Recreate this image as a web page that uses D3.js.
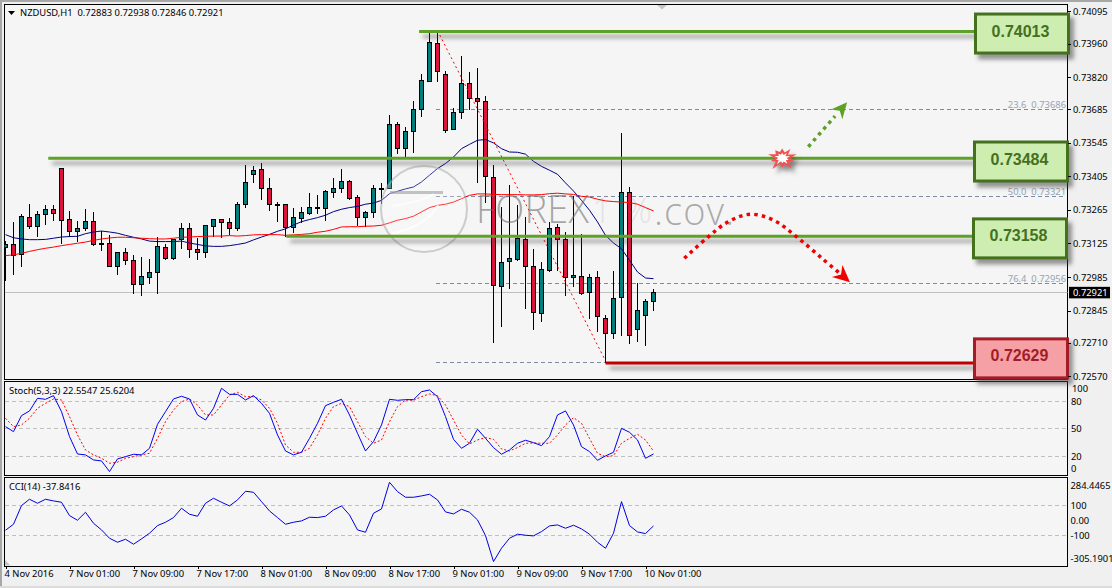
<!DOCTYPE html>
<html>
<head>
<meta charset="utf-8">
<title>NZDUSD H1</title>
<script src="https://cdn.jsdelivr.net/npm/d3@7/dist/d3.min.js"></script>
<style>
  html, body { margin: 0; padding: 0; background: #f0f0f0; overflow: hidden; }
  svg { display: block; }
  text { font-family: Tahoma, "Noto Sans", "Liberation Sans", sans-serif; font-size: 9.4px; fill: #000; }
  .axis .domain, .axis line { stroke: #000; shape-rendering: crispEdges; }
  .axis text { font-family: Tahoma, "Noto Sans", "Liberation Sans", sans-serif; font-size: 9.4px; fill: #000; }
</style>
</head>
<body>
<svg id="chart" width="1112" height="588"></svg>
<script>
// Hourly NZDUSD candles, in bar order
const opens = [.73110,.73121,.73080,.73234,.73198,.73244,.73268,.73439,.73226,.73177,.73186,.73218,.73124,.73126,.73031,.73088,.73055,.72952,.72985,.73002,.73109,.73064,.73140,.73188,.73101,.73089,.73198,.73226,.73213,.73188,.73286,.73415,.73435,.73356,.73289,.73289,.73193,.73230,.73252,.73271,.73272,.73340,.73353,.73385,.73318,.73232,.73254,.73354,.73354,.73621,.73521,.73592,.73684,.73801,.73960,.73830,.73601,.73672,.73793,.73730,.73718,.73400,.72945,.73048,.73060,.73142,.73028,.72832,.73014,.73191,.73142,.72985,.72986,.72920,.72982,.72811,.72748,.72899,.73337,.72765,.72823,.72883];
const highs = [.73138,.73215,.73250,.73294,.73264,.73289,.73289,.73439,.73264,.73219,.73271,.73259,.73180,.73163,.73088,.73110,.73080,.73071,.73062,.73155,.73127,.73145,.73213,.73213,.73152,.73201,.73230,.73226,.73234,.73301,.73456,.73452,.73464,.73401,.73301,.73289,.73276,.73280,.73339,.73330,.73350,.73399,.73439,.73393,.73330,.73264,.73372,.73378,.73663,.73635,.73612,.73723,.73835,.74009,.74009,.73849,.73693,.73911,.73844,.73861,.73744,.73456,.73280,.73372,.73289,.73239,.73105,.73051,.73215,.73208,.73176,.73326,.73168,.73000,.73013,.72829,.73013,.73589,.73364,.72963,.72895,.72938];
const lows = [.72971,.72996,.73030,.73186,.73155,.73205,.73222,.73127,.73155,.73135,.73180,.73117,.73096,.73031,.72996,.73038,.72918,.72906,.72960,.72918,.73057,.73057,.73105,.73067,.73059,.73067,.73155,.73152,.73163,.73180,.73277,.73378,.73310,.73264,.73218,.73155,.73169,.73212,.73247,.73250,.73222,.73319,.73340,.73310,.73199,.73197,.73232,.73291,.73354,.73500,.73486,.73503,.73654,.73801,.73803,.73587,.73601,.73645,.73684,.73381,.73298,.72712,.72779,.72939,.73052,.72854,.72766,.72800,.73010,.73013,.72908,.72946,.72913,.72811,.72758,.72626,.72729,.72741,.72709,.72716,.72697,.72846];
const closes = [.73121,.73076,.73239,.73198,.73247,.73268,.73252,.73223,.73177,.73188,.73218,.73119,.73119,.73031,.73088,.73052,.72953,.72988,.73005,.73113,.73064,.73142,.73188,.73099,.73089,.73201,.73226,.73211,.73186,.73289,.73381,.73431,.73353,.73286,.73284,.73193,.73234,.73255,.73276,.73276,.73343,.73356,.73385,.73311,.73233,.73255,.73354,.73352,.73621,.73521,.73592,.73686,.73807,.73966,.73843,.73596,.73673,.73793,.73729,.73718,.73404,.72949,.73045,.73062,.73144,.73028,.72836,.73016,.73187,.73141,.72985,.72991,.72918,.72982,.72819,.72748,.72895,.73337,.72740,.72844,.72882,.72921];

// Moving averages over the same bars
const maFast = [.73162,.73149,.73144,.73141,.73141,.73142,.73147,.73152,.73154,.73155,.73166,.73173,.73177,.73173,.73168,.73159,.73151,.73144,.73135,.73133,.73133,.73133,.73135,.73127,.73121,.73115,.73113,.73113,.73116,.73121,.73127,.73140,.73152,.73163,.73176,.73186,.73202,.73216,.73225,.73233,.73243,.73258,.73268,.73275,.73280,.73289,.73294,.73305,.73333,.73343,.73353,.73361,.73382,.73410,.73438,.73459,.73486,.73521,.73539,.73556,.73559,.73545,.73521,.73507,.73506,.73498,.73468,.73447,.73431,.73414,.73378,.73344,.73305,.73264,.73215,.73159,.73127,.73103,.73055,.73006,.72981,.72978];
const maSlow = [.73074,.73078,.73084,.73092,.73099,.73105,.73110,.73116,.73121,.73126,.73131,.73138,.73144,.73148,.73151,.73151,.73149,.73147,.73145,.73144,.73144,.73147,.73151,.73152,.73154,.73155,.73156,.73156,.73158,.73156,.73158,.73161,.73162,.73162,.73162,.73159,.73161,.73163,.73166,.73172,.73176,.73184,.73194,.73195,.73195,.73197,.73198,.73201,.73211,.73222,.73229,.73239,.73257,.73275,.73284,.73289,.73298,.73312,.73326,.73332,.73332,.73330,.73329,.73329,.73329,.73328,.73328,.73329,.73333,.73335,.73332,.73330,.73322,.73319,.73310,.73303,.73300,.73298,.73296,.73289,.73275,.73261];

// Stochastic oscillator
const stochMain = [52.4,46.9,64.4,69.5,83.3,82.2,86.2,68.7,41.5,22.5,21.5,16.0,14.9,3.3,17.1,19.6,22.2,21.5,28.7,54.9,68.7,82.6,85.5,82.6,65.1,59.6,72.4,94.2,87.6,87.6,81.5,86.2,77.8,66.9,43.3,25.8,21.5,24.4,39.6,56,75.3,78.9,82.2,65.1,45.1,25.8,36,54.2,82.2,81.1,81.8,81.8,90.5,92.4,85.1,63.3,38.5,28.7,34.2,49.5,39.6,29.5,22.2,26.9,34.2,37.5,34.9,31.6,41.5,65.1,69.5,54.2,30.5,25.1,15.6,20.4,24.4,50.5,46.2,37.8,17.8,22.5547];
const stochSignal = [61.5,52.4,54.2,61.5,72.4,77.8,82.6,81.5,63.3,43.3,26.9,21.5,17.8,12.4,13.5,17.8,19.6,21.5,23.3,39.6,57.8,70.5,79.6,82.6,76,65.1,65.1,76,86.9,89.8,85.1,85.1,81.5,72.4,56,32.4,24.4,24.4,28.7,43.3,61.5,74.2,77.8,74.2,57.8,41.5,34.2,37.8,57.8,74.2,81.5,81.1,85.1,88,86.2,76,59.6,43.3,33.5,37.8,40.4,38.5,28,25.8,29.5,34.2,34.5,34.2,34.2,43.3,54.2,62.2,56,39.6,23.3,19.6,20.7,34.2,39.6,44,37.8,25.6204];

// Commodity channel index
const cci = [-66.7,-26.7,97.8,140,113.3,140,128.9,120,31.1,0,53.3,-20,-64.4,-120,-146.7,-126.7,-160,-124.4,-86.7,-35.6,-13.3,17.8,80,40,26.7,113.3,146.7,120,95.6,135.6,193.3,186.7,124.4,62.2,17.8,-26.7,-13.3,-4.4,20,17.8,26.7,68.9,95.6,35.6,-64.4,-80,46.7,75.6,253.3,191.1,153.3,153.3,162.2,173.3,135.6,55.6,42.2,73.3,53.3,2.2,-102.2,-275.6,-186.7,-120,-93.3,-100,-104.4,-75.6,-37.8,-31.1,-53.3,-33.3,-57.8,-93.3,-146.7,-186.7,-86.7,124.4,-35.6,-77.8,-88.9,-37.8416];

// Axis labelling
const priceTicks = [.74095,.73960,.73820,.73685,.73545,.73405,.73265,.73125,.72985,.72845,.72710,.72570];
const stochTicks = [100,80,50,20,0];
const cciTicks = [284.4465,100,0,-100,-305.1901];
const cciTickLabels = ["284.4465","100","0.00","-100","-305.1901"];
const timeLabels = ["4 Nov 2016","7 Nov 01:00","7 Nov 09:00","7 Nov 17:00","8 Nov 01:00","8 Nov 09:00","8 Nov 17:00","9 Nov 01:00","9 Nov 09:00","9 Nov 17:00","10 Nov 01:00"];

// Key levels with their call-out boxes
const levelValues = [.74013,.73484,.73158,.72629];
const levelStartBars = [51.7,5.35,35.1,75];

// Fibonacci retracement
const fibRatios = ["23.6","50.0","76.4"];
const fibValues = [.73686,.73321,.72956];
const fibAnchorHigh = [54,.74014];
const fibAnchorLow = [75,.72635];
const fibStartBar = 54;

// Scenario paths, as bar index and price
const bullBars = [100.35,103.7], bullPrices = [.73529,.73657], bullTip = [105.2,.73715];
const bearBars = [84.85,87.85,90.35,93.06,95.98,99.1,102.2,104.5];
const bearPrices = [.73063,.73153,.73216,.73247,.73223,.73147,.73059,.72994];
const bearTip = [105.56,.72963];
const breakoutPoint = [97.1,.73490];

const W = 1112, H = 588;
const left = 4.5, right = 1067.5;
const svg = d3.select("#chart");
const defs = svg.append("defs");

const shadow = defs.append("filter").attr("id", "shadow")
  .attr("filterUnits", "userSpaceOnUse")
  .attr("x", 0).attr("y", 0).attr("width", W).attr("height", H);
shadow.append("feDropShadow").attr("dx", 4).attr("dy", 5).attr("stdDeviation", 2)
  .attr("flood-color", "#444").attr("flood-opacity", 0.55);

const clipPanel = (id, y0, y1) => defs.append("clipPath").attr("id", id)
  .append("rect").attr("x", left).attr("y", y0).attr("width", right - left).attr("height", y1 - y0);
clipPanel("clipMain", 4.5, 379);
clipPanel("clipStoch", 381.5, 475);
clipPanel("clipCci", 477.5, 566);

// Scales
const x = d3.scaleLinear().domain([0, 81]).range([5.5, 653.5]);
const y = d3.scaleLinear().domain([.74095, .72570]).range([11.2, 376.4]);
const yStoch = d3.scaleLinear().domain([100, 0]).range([383, 474.6]);
const yCci = d3.scaleLinear().domain([284.4465, -305.1901]).range([477.6, 566]);
const snap = v => Math.round(v - 0.5) + 0.5;

// Window background and panel faces
svg.append("rect").attr("width", W).attr("height", H).attr("fill", "#f0f0f0");
svg.append("rect").attr("x", 0).attr("y", 0).attr("width", W).attr("height", 2).attr("fill", "#a8a8a8");
svg.append("rect").attr("x", 0).attr("y", 0).attr("width", 2).attr("height", 586).attr("fill", "#a8a8a8");
svg.append("rect").attr("x", 0).attr("y", 586).attr("width", W).attr("height", 2).attr("fill", "#dcdcdc");

const panels = [[4.5, 379.5], [381.5, 475.5], [477.5, 566]];
svg.selectAll("rect.face").data(panels).join("rect").attr("class", "face")
  .attr("x", left).attr("y", d => d[0]).attr("width", right - left).attr("height", d => d[1] - d[0])
  .attr("fill", "#f5f5f5").attr("stroke", "#000").attr("shape-rendering", "crispEdges");

// Price panel
const main = svg.append("g").attr("clip-path", "url(#clipMain)");

main.append("line").attr("x1", left).attr("x2", right)
  .attr("y1", snap(y(closes[closes.length - 1]))).attr("y2", snap(y(closes[closes.length - 1])))
  .attr("stroke", "#c0c0c0").attr("shape-rendering", "crispEdges");

const fibStartX = x(fibStartBar) - 1.5;
main.selectAll("line.fib").data(fibValues.concat([levelValues[3]])).join("line").attr("class", "fib")
  .attr("x1", fibStartX).attr("x2", (d, i) => i === 3 ? x(fibAnchorLow[0]) : right - 2)
  .attr("y1", d => snap(y(d))).attr("y2", d => snap(y(d)))
  .attr("stroke", "#7d8ca3").attr("stroke-dasharray", "4 3").attr("shape-rendering", "crispEdges");

main.selectAll("text.fibLabel").data(fibValues).join("text").attr("class", "fibLabel")
  .attr("x", right - 1.5).attr("y", d => snap(y(d)) - 2).attr("text-anchor", "end")
  .attr("xml:space", "preserve")
  .style("fill", "#98a4b4")
  .text((d, i) => `${fibRatios[i]}  ${d.toFixed(5)}`);

const bars = d3.range(closes.length).map(i => ({ i, o: opens[i], h: highs[i], l: lows[i], c: closes[i] }));
const candle = main.selectAll("g.bar").data(bars).join("g").attr("class", "bar");
candle.append("line")
  .attr("x1", d => x(d.i)).attr("x2", d => x(d.i))
  .attr("y1", d => snap(y(d.h))).attr("y2", d => snap(y(d.l)))
  .attr("stroke", "#000").attr("shape-rendering", "crispEdges");
candle.append("rect")
  .attr("x", d => x(d.i) - 2).attr("width", 4)
  .attr("y", d => snap(y(Math.max(d.o, d.c))))
  .attr("height", d => Math.max(1, snap(y(Math.min(d.o, d.c))) - snap(y(Math.max(d.o, d.c)))))
  .attr("fill", d => d.c >= d.o ? "#007d7d" : "#dc143c")
  .attr("stroke", "#000").attr("shape-rendering", "crispEdges");

const priceLine = d3.line().x((d, i) => x(i)).y(d => y(d));
main.append("path").attr("d", priceLine(maFast)).attr("fill", "none").attr("stroke", "#000080");
main.append("path").attr("d", priceLine(maSlow)).attr("fill", "none").attr("stroke", "#ff0000");

main.append("line")
  .attr("x1", x(fibAnchorHigh[0])).attr("y1", y(fibAnchorHigh[1]))
  .attr("x2", x(fibAnchorLow[0])).attr("y2", y(fibAnchorLow[1]))
  .attr("stroke", "#ff0000").attr("stroke-dasharray", "2 3");

// Semi-transparent site mark over the candles
const markFont = "'Open Sans', 'Liberation Sans', sans-serif";
const mark = svg.append("g").attr("pointer-events", "none");
mark.append("circle").attr("cx", 424).attr("cy", 209).attr("r", 43)
  .attr("fill", "rgba(255,255,255,0.22)").attr("stroke", "rgba(170,170,170,0.55)").attr("stroke-width", 2);
mark.append("rect").attr("x", 390).attr("y", 191).attr("width", 53).attr("height", 3).attr("fill", "rgba(170,170,170,0.7)");
mark.append("path").attr("d", "M391 206 C405 204 425 200 434 194 M392 233 C405 232 430 222 438 205")
  .attr("fill", "none").attr("stroke", "rgba(255,255,255,0.7)").attr("stroke-width", 2);
mark.append("text").attr("x", 476).attr("y", 223)
  .style("font-family", markFont).style("font-size", "38px").style("font-weight", "300")
  .style("fill", "rgba(110,110,110,0.6)").attr("textLength", 113).text("FOREX");
mark.append("text").attr("x", 592).attr("y", 223)
  .style("font-family", markFont).style("font-size", "34px").style("font-weight", "300")
  .style("fill", "rgba(130,130,130,0.18)").attr("textLength", 60).text("1%");
mark.append("text").attr("x", 654).attr("y", 225)
  .style("font-family", markFont).style("font-size", "38px").style("font-weight", "300")
  .style("fill", "rgba(120,120,120,0.6)").attr("textLength", 80).text(".cov.");

// Key levels
const levelColor = ["#5ea025", "#5ea025", "#5ea025", "#c00000"];
const levelGroup = svg.append("g").attr("filter", "url(#shadow)");
levelGroup.selectAll("line").data(levelValues).join("line")
  .attr("x1", (d, i) => x(levelStartBars[i])).attr("x2", 976)
  .attr("y1", d => y(d) + 0.7).attr("y2", d => y(d) + 0.7)
  .attr("stroke", (d, i) => levelColor[i]).attr("stroke-width", 3);

// Call-out boxes: left edge and vertical offset from the level
const boxLeft = [975.5, 974.5, 973.5, 974.5];
const boxShift = [2.7, 4, 2.8, -3.9];
const boxH = 39, boxW = 93;
const boxGroup = svg.append("g");
const box = boxGroup.selectAll("g").data(levelValues).join("g");
box.append("rect")
  .attr("x", (d, i) => boxLeft[i])
  .attr("y", (d, i) => y(d) + boxShift[i] - boxH / 2)
  .attr("width", boxW).attr("height", boxH)
  .attr("fill", (d, i) => i === 3 ? "#f4a0a5" : "#cdeeb0")
  .attr("stroke", (d, i) => i === 3 ? "#a31c28" : "#44701f").attr("stroke-width", 3)
  .attr("filter", "url(#shadow)");
box.append("text")
  .attr("x", (d, i) => boxLeft[i] + 45)
  .attr("y", (d, i) => y(d) + boxShift[i] - 2.5)
  .attr("text-anchor", "middle").attr("dominant-baseline", "central")
  .style("font-family", "'Liberation Sans', Arial, sans-serif").style("font-size", "16px").style("font-weight", "bold")
  .style("fill", (d, i) => i === 3 ? "#a31c28" : "#44701f")
  .text(d => d.toFixed(5));

// Scenario arrows
const pathLine = d3.line().x(d => x(d[0])).y(d => y(d[1]));
function arrowHead(g, from, tip, color, len, half) {
  const fx = x(from[0]), fy = y(from[1]), tx = x(tip[0]), ty = y(tip[1]);
  const a = Math.atan2(ty - fy, tx - fx);
  const pt = (l, s) => [tx - l * Math.cos(a) - s * Math.sin(a), ty - l * Math.sin(a) + s * Math.cos(a)];
  g.append("path").attr("d", "M" + [[tx, ty], pt(len, half), pt(len * 0.7, 0), pt(len, -half)].join("L") + "Z").attr("fill", color);
}
const bull = svg.append("g");
bull.append("path").attr("d", pathLine(d3.zip(bullBars, bullPrices))).attr("fill", "none")
  .attr("stroke", "#5ea025").attr("stroke-width", 3.5).attr("stroke-dasharray", "3.5 4.2");
arrowHead(bull, [bullBars[1], bullPrices[1]], bullTip, "#5ea025", 16, 7.5);

const bear = svg.append("g");
bear.append("path").attr("d", d3.line().x(d => x(d[0])).y(d => y(d[1])).curve(d3.curveCatmullRom)(d3.zip(bearBars, bearPrices)))
  .attr("fill", "none").attr("stroke", "#f00000").attr("stroke-width", 3.5).attr("stroke-dasharray", "3.5 4.2");
arrowHead(bear, [bearBars[7], bearPrices[7]], bearTip, "#f00000", 17, 8);

// Breakout burst on the upper level
const burstOuter = [12, 7.5, 14, 7, 15, 8, 12, 8, 16, 8, 12, 7.5, 17, 8, 12, 7.5, 15, 8, 12, 8];
const burstAngle = d3.scaleLinear().domain([0, burstOuter.length]).range([0, 2 * Math.PI]);
const burstPath = d3.lineRadial().angle((d, i) => burstAngle(i)).radius(d => d).curve(d3.curveLinearClosed);
const burstShadow = svg.append("g").attr("filter", "url(#shadow)");
const burst = burstShadow.append("g")
  .attr("transform", `translate(${x(breakoutPoint[0])},${y(breakoutPoint[1]) + 2}) scale(1,0.8)`);
burst.append("path").attr("d", burstPath(burstOuter)).attr("fill", "#ef5350");
burst.append("path").attr("d", burstPath(burstOuter.map(r => r * 0.55))).attr("fill", "#fff");

// Stochastic panel
const stochPanel = svg.append("g").attr("clip-path", "url(#clipStoch)");
stochPanel.selectAll("line").data([80, 50, 20]).join("line")
  .attr("x1", left).attr("x2", right).attr("y1", d => snap(yStoch(d))).attr("y2", d => snap(yStoch(d)))
  .attr("stroke", "#c0c0c0").attr("stroke-dasharray", "4 3").attr("shape-rendering", "crispEdges");
const stochLine = d3.line().x((d, i) => x(i)).y(d => yStoch(d));
stochPanel.append("path").attr("d", stochLine(stochSignal)).attr("fill", "none").attr("stroke", "#ff0000").attr("stroke-dasharray", "2 2");
stochPanel.append("path").attr("d", stochLine(stochMain)).attr("fill", "none").attr("stroke", "#0000ee");

// CCI panel
const cciPanel = svg.append("g").attr("clip-path", "url(#clipCci)");
cciPanel.selectAll("line").data([100, -100]).join("line")
  .attr("x1", left).attr("x2", right).attr("y1", d => snap(yCci(d))).attr("y2", d => snap(yCci(d)))
  .attr("stroke", "#c0c0c0").attr("stroke-dasharray", "4 3").attr("shape-rendering", "crispEdges");
cciPanel.append("path").attr("d", d3.line().x((d, i) => x(i)).y(d => yCci(d))(cci)).attr("fill", "none").attr("stroke", "#0000dd");

// Panel captions
svg.append("path").attr("d", "M8 11H15L11.5 15Z").attr("fill", "#000");
svg.append("text").attr("x", 20).attr("y", 16).attr("xml:space", "preserve")
  .text(`NZDUSD,H1  ${opens[81].toFixed(5)} ${highs[81].toFixed(5)} ${lows[81].toFixed(5)} ${closes[81].toFixed(5)}`);
svg.append("text").attr("x", 9).attr("y", 394).text(`Stoch(5,3,3) ${stochMain[81].toFixed(4)} ${stochSignal[81].toFixed(4)}`);
svg.append("text").attr("x", 9).attr("y", 490).text(`CCI(14) ${cci[81].toFixed(4)}`);

// Corner markers
svg.append("path").attr("d", "M657 5H667L662 9.5Z").attr("fill", "#c4c4c4");
svg.append("path").attr("d", "M5 560L10.5 565.5H5Z").attr("fill", "#c4c4c4");

// Axes
const axisPrice = svg.append("g").attr("class", "axis").attr("transform", `translate(${right},0)`)
  .call(d3.axisRight(y).tickValues(priceTicks).tickFormat(d3.format(".5f")).tickSize(3).tickSizeOuter(0));
axisPrice.select(".domain").remove();
axisPrice.selectAll("text").attr("x", 5.5);

const axisStoch = svg.append("g").attr("class", "axis").attr("transform", `translate(${right},0)`)
  .call(d3.axisRight(yStoch).tickValues(stochTicks).tickSize(0).tickFormat(d3.format("d")));
axisStoch.select(".domain").remove();
axisStoch.selectAll("text").attr("x", 3.5)
  .attr("transform", d => d === 100 ? "translate(1,5)" : d === 0 ? "translate(0,-6.5)" : null);

const axisCci = svg.append("g").attr("class", "axis").attr("transform", `translate(${right},0)`)
  .call(d3.axisRight(yCci).tickValues(cciTicks).tickSize(0).tickFormat((d, i) => cciTickLabels[i]));
axisCci.select(".domain").remove();
axisCci.selectAll("text").attr("x", 3)
  .attr("transform", d => d > 200 ? "translate(0,7.5)" : d < -200 ? "translate(0,-7.5)" : null);

const axisTime = svg.append("g").attr("class", "axis").attr("transform", "translate(0,566)")
  .call(d3.axisBottom(x).tickValues(timeLabels.map((d, i) => i * 8)).tickSize(3).tickFormat((d, i) => timeLabels[i]));
axisTime.select(".domain").remove();
axisTime.selectAll("text").attr("text-anchor", "start").attr("x", -1.5).attr("y", 3).attr("dy", "0.9em");

// Last-price tag
const lastClose = closes[closes.length - 1];
svg.append("rect").attr("x", 1069).attr("y", y(lastClose) - 5.5).attr("width", 41).attr("height", 11.5).attr("fill", "#000");
svg.append("text").attr("x", 1073).attr("y", y(lastClose)).attr("dominant-baseline", "central")
  .style("fill", "#fff").text(lastClose.toFixed(5));
</script>
</body>
</html>
